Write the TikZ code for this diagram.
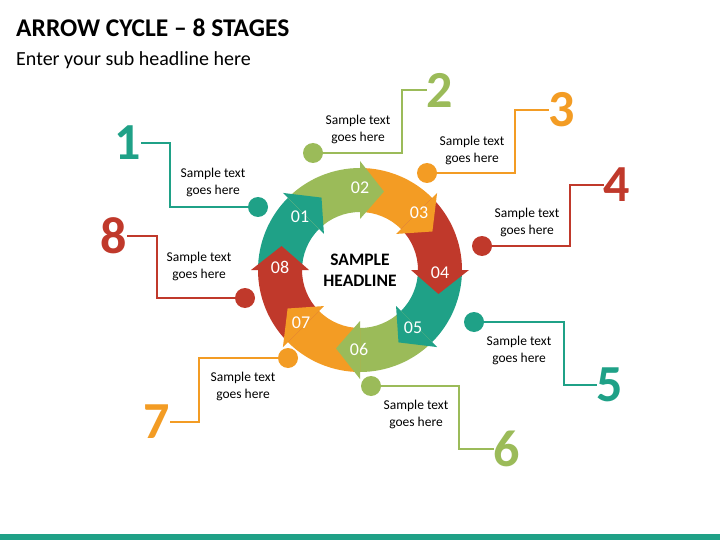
\documentclass[tikz,border=0pt]{standalone}
\usepackage{fontspec}
\setmainfont{Carlito}
\definecolor{cteal}{RGB}{31,161,135}
\definecolor{cgreen}{RGB}{155,187,89}
\definecolor{corange}{RGB}{243,156,36}
\definecolor{cred}{RGB}{192,57,43}
\begin{document}
\begin{tikzpicture}[x=1pt,y=-1pt,
  stagetxt/.style={text=white, font=\fontsize{18}{20}\selectfont, inner sep=0pt},
  sampletxt/.style={align=center, font=\fontsize{13.5}{17}\selectfont, inner sep=0pt},
  bignum/.style={text=#1, font=\fontsize{52}{52}\selectfont\bfseries, inner sep=0pt},
  dotnode/.style={circle, fill=#1, minimum size=20pt, inner sep=0pt},
  link/.style={draw=#1, line width=1.4pt}]
\useasboundingbox (0,0) rectangle (720,540);
\fill[white] (0,0) rectangle (720,540);
% title
\node[anchor=base west, inner sep=0pt, font=\fontsize{25.5}{30}\selectfont\bfseries] (title) at (16,37) {ARROW CYCLE – 8 STAGES};
\node[anchor=base west, inner sep=0pt, font=\fontsize{20}{24}\selectfont] (subtitle) at (16,66) {Enter your sub headline here};
% ring
\begin{scope}[shift={(360,270)}, yscale=-1]
\foreach \k/\col in {1/cteal,2/cgreen,3/corange,4/cred,5/cteal,6/cgreen,7/corange,8/cred}{
  \pgfmathsetmacro\b{135-45*(\k-1)}
  \pgfmathsetmacro\t{\b+45}
  \fill[\col] (\t:58) arc[start angle=\t, end angle=\b, radius=58] -- (\b:102) arc[start angle=\b, end angle=\t, radius=102] -- cycle;
}
\foreach \k/\col in {1/cteal,2/cgreen,3/corange,4/cred,5/cteal,6/cgreen,7/corange,8/cred}{
  \pgfmathsetmacro\b{135-45*(\k-1)}
  \pgfmathsetmacro\tp{\b-17}
  \fill[\col] (\b:51) -- (\b:109) -- (\tp:82) -- cycle;
}
\end{scope}
% stage labels
\node[stagetxt] (s1) at (300,217) {01};
\node[stagetxt] (s2) at (360,188) {02};
\node[stagetxt] (s3) at (419,213) {03};
\node[stagetxt] (s4) at (440,273) {04};
\node[stagetxt] (s5) at (413,328) {05};
\node[stagetxt] (s6) at (359,349) {06};
\node[stagetxt] (s7) at (301,323) {07};
\node[stagetxt] (s8) at (280,267) {08};
\node[align=center, inner sep=0pt, font=\fontsize{17.5}{21}\selectfont\bfseries] (head) at (360,270) {SAMPLE\\HEADLINE};
% dots
\node[dotnode=cteal] (d1) at (258,207) {};
\node[dotnode=cgreen] (d2) at (313,153) {};
\node[dotnode=corange] (d3) at (427,173) {};
\node[dotnode=cred] (d4) at (482,246) {};
\node[dotnode=cteal] (d5) at (474,322) {};
\node[dotnode=cgreen] (d6) at (371,386) {};
\node[dotnode=corange] (d7) at (288,358) {};
\node[dotnode=cred] (d8) at (245,298) {};
% big numbers
\node[bignum=cteal] (n1) at (128,143) {1};
\node[bignum=cgreen] (n2) at (440,90) {2};
\node[bignum=corange] (n3) at (562,110) {3};
\node[bignum=cred] (n4) at (617,185) {4};
\node[bignum=cteal] (n5) at (610,385) {5};
\node[bignum=cgreen] (n6) at (507,449) {6};
\node[bignum=corange] (n7) at (157,422) {7};
\node[bignum=cred] (n8) at (114,236) {8};
% connectors
\draw[link=cteal] (d1) -- (170,207) |- (n1);
\draw[link=cgreen] (d2) -- (402,153) |- (n2);
\draw[link=corange] (d3) -- (515,173) |- (n3);
\draw[link=cred] (d4) -- (570,246) |- (n4);
\draw[link=cteal] (d5) -- (564,322) |- (n5);
\draw[link=cgreen] (d6) -- (459,386) |- (n6);
\draw[link=corange] (d7) -- (199,358) |- (n7);
\draw[link=cred] (d8) -- (157,298) |- (n8);
% texts
\node[sampletxt] (t1) at (213,182) {Sample text\\goes here};
\node[sampletxt] (t2) at (358,129) {Sample text\\goes here};
\node[sampletxt] (t3) at (472,150) {Sample text\\goes here};
\node[sampletxt] (t4) at (527,222) {Sample text\\goes here};
\node[sampletxt] (t5) at (519,350) {Sample text\\goes here};
\node[sampletxt] (t6) at (416,414) {Sample text\\goes here};
\node[sampletxt] (t7) at (243,386) {Sample text\\goes here};
\node[sampletxt] (t8) at (199,266) {Sample text\\goes here};
% bottom bar
\fill[cteal] (0,534) rectangle (720,540);
\end{tikzpicture}
\end{document}
